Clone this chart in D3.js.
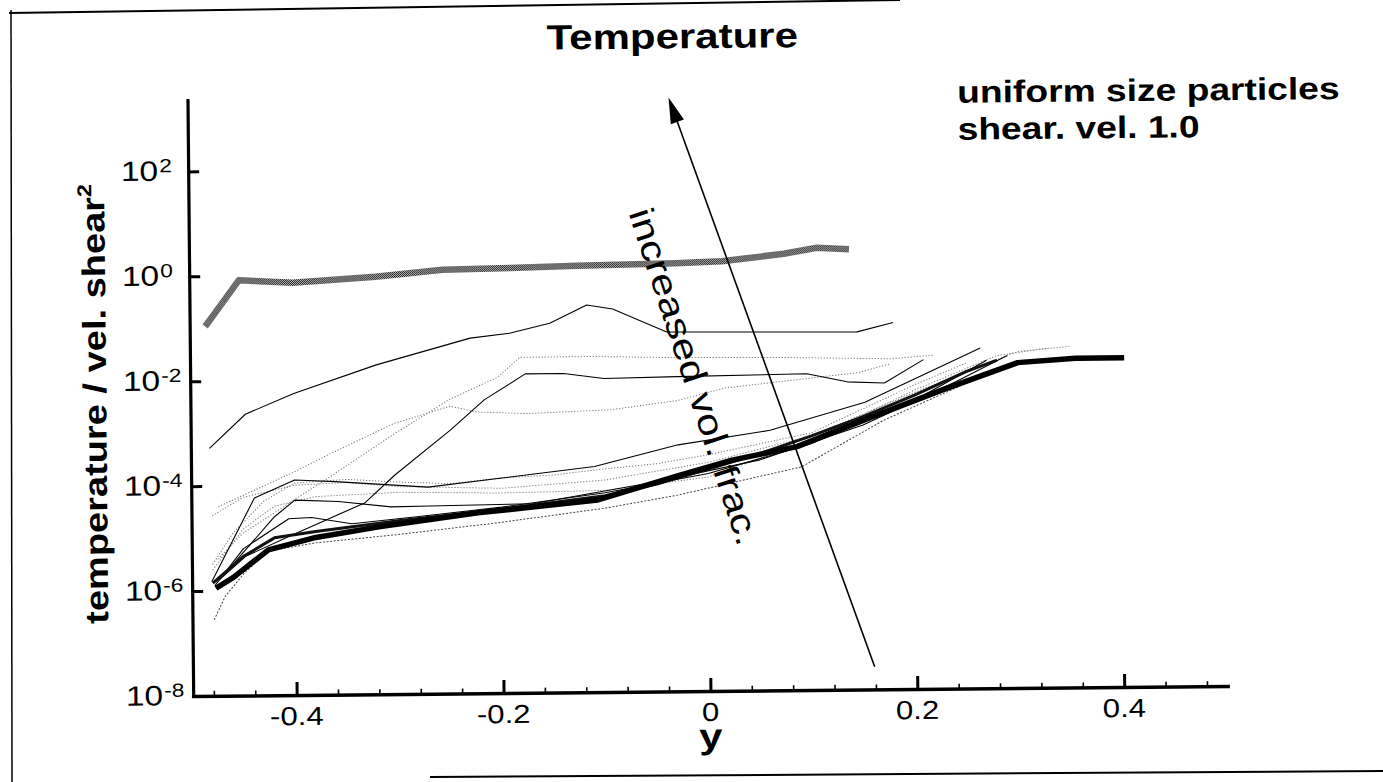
<!DOCTYPE html>
<html>
<head>
<meta charset="utf-8">
<script src="https://cdn.jsdelivr.net/npm/d3@7"></script>
<style>
  body { margin: 0; background: #fff; }
  svg { display: block; }
  text { font-family: "Liberation Sans", Arial, Helvetica, sans-serif; fill: #000; }
</style>
</head>
<body>
<svg id="chart" width="1383" height="782"></svg>
<script>
// ---- axis ticks ----
const yTickValues = [1e-8, 1e-6, 1e-4, 1e-2, 1e0, 1e2];
const yTickExponents = ["-8", "-6", "-4", "-2", "0", "2"];
const xMajorTicks = [-0.4, -0.2, 0, 0.2, 0.4];
const xTickLabels = ["-0.4", "-0.2", "0", "0.2", "0.4"];
const xMinorTicks = [-0.48, -0.44, -0.36, -0.32, -0.28, -0.24, -0.16, -0.12, -0.08, -0.04,
                     0.04, 0.08, 0.12, 0.16, 0.24, 0.28, 0.32, 0.36, 0.44, 0.48];

// ---- profiles: position y across the channel, temperature / vel. shear^2 ----
const posA = [-0.485, -0.452, -0.40, -0.32, -0.255, -0.19, -0.125, -0.03, 0.015, 0.075, 0.107, 0.138];
const tempA = [0.11, 0.83, 0.72, 0.91, 1.2, 1.26, 1.35, 1.45, 1.55, 2.1, 2.7, 2.5];

const posB = [-0.482, -0.447, -0.40, -0.32, -0.229, -0.191, -0.152, -0.116, -0.091, -0.039, 0.145, 0.18];
const tempB = [5.2e-4, 2.3e-3, 5.6e-3, 1.9e-2, 5.9e-2, 7.2e-2, 0.11, 0.24, 0.20, 7.1e-2, 6.6e-2, 9.8e-2];

const posC = [-0.474, -0.448, -0.406, -0.371, -0.332, -0.303, -0.249, -0.216, -0.176, -0.139, -0.10, -0.029, 0.096, 0.135, 0.171, 0.209];
const tempC = [1.6e-6, 4.5e-6, 1.05e-5, 2.1e-5, 4.5e-5, 1.5e-4, 1.05e-3, 3.9e-3, 1.2e-2, 1.2e-2, 9.5e-3, 1.0e-2, 1.07e-2, 7.4e-3, 6.9e-3, 1.9e-2];

const posD = [-0.475, -0.45, -0.37, -0.30, -0.25, -0.203, -0.181, -0.107, -0.03, 0.08, 0.177, 0.219];
const tempD = [4e-6, 1.26e-5, 1.26e-4, 1e-3, 4e-3, 1.05e-2, 2.5e-2, 2.5e-2, 2.3e-2, 2.2e-2, 2.0e-2, 2.3e-2];

const posE = [-0.474, -0.40, -0.368, -0.303, -0.249, -0.223, -0.175, -0.094, -0.029, 0.016, 0.145, 0.177];
const tempE = [4e-5, 1.8e-4, 3.7e-4, 1.45e-3, 3.0e-3, 2.3e-3, 2.1e-3, 2.4e-3, 3.5e-3, 5.9e-3, 1.1e-2, 1.6e-2];

const posF = [-0.477, -0.46, -0.426, -0.38, -0.319, -0.223, -0.107, -0.029, 0.023, 0.086, 0.152, 0.227, 0.30, 0.356, 0.403];
const tempF = [1.12e-6, 1.8e-6, 5.9e-6, 1.0e-5, 1.55e-5, 2.75e-5, 4.6e-5, 1.3e-4, 2.5e-4, 4.4e-4, 1.4e-3, 5.0e-3, 1.6e-2, 1.9e-2, 1.9e-2];

const posG = [-0.48, -0.45, -0.42, -0.38, -0.30, -0.20, -0.10, -0.05, 0.0, 0.05, 0.10, 0.15, 0.20, 0.25, 0.28];
const tempG = [1.4e-6, 4.5e-6, 1.0e-5, 1.3e-5, 2.0e-5, 3.2e-5, 5.5e-5, 9e-5, 1.7e-4, 3.3e-4, 7e-4, 1.6e-3, 4e-3, 1.1e-2, 1.8e-2];

const posH = [-0.481, -0.439, -0.40, -0.361, -0.271, -0.11, -0.029, 0.06, 0.152, 0.264];
const tempH = [1.5e-6, 5.8e-5, 1.26e-4, 1.15e-4, 8.7e-5, 2.0e-4, 5.0e-4, 9.1e-4, 3.0e-3, 3.1e-2];

const posI = [-0.479, -0.468, -0.449, -0.426, -0.38, -0.30, -0.20, -0.10, -0.03, 0.09, 0.17, 0.264];
const tempI = [2.8e-7, 7.9e-7, 2.2e-6, 5.6e-6, 7.9e-6, 1.1e-5, 1.8e-5, 3.2e-5, 5.5e-5, 1.8e-4, 1.35e-3, 8.7e-3];

const posJ = [-0.465, -0.42, -0.40, -0.358, -0.307, -0.27, -0.17, -0.05, 0.05, 0.15, 0.24, 0.29];
const tempJ = [2.5e-6, 2.5e-5, 5.2e-5, 4.8e-5, 3.7e-5, 3.8e-5, 4.0e-5, 1.0e-4, 2.5e-4, 1.1e-3, 7.1e-3, 2.2e-2];

const posK = [-0.478, -0.45, -0.406, -0.384, -0.345, -0.28, -0.20, -0.10, 0.0, 0.10, 0.20, 0.27];
const tempK = [1.26e-6, 6.3e-6, 2.3e-5, 2.4e-5, 1.8e-5, 2.4e-5, 3.5e-5, 6.3e-5, 1.4e-4, 5.0e-4, 3.2e-3, 1.8e-2];

const posL = [-0.48, -0.46, -0.43, -0.40, -0.35, -0.30, -0.25, -0.20, -0.15, -0.10, -0.05, 0.0, 0.10, 0.20, 0.25];
const tempL = [3.2e-6, 1.26e-5, 5e-5, 1.1e-4, 1.26e-4, 1.1e-4, 1.0e-4, 1.26e-4, 1.4e-4, 1.8e-4, 2.2e-4, 3.2e-4, 8e-4, 6.3e-3, 1.6e-2];

const posM = [-0.48, -0.45, -0.42, -0.38, -0.30, -0.20, -0.10, 0.0, 0.10, 0.20, 0.28, 0.33];
const tempM = [2.5e-6, 1.5e-5, 4e-5, 6e-5, 7e-5, 6.5e-5, 7e-5, 1.2e-4, 6e-4, 5e-3, 2.2e-2, 3.0e-2];

const posN = [-0.48, -0.45, -0.40, -0.35, -0.30, -0.20, -0.10, 0.0, 0.10, 0.20, 0.30, 0.35];
const tempN = [2.7e-5, 6e-5, 1.0e-4, 1.1e-4, 9e-5, 8e-5, 1.1e-4, 2.3e-4, 7e-4, 4.5e-3, 2.6e-2, 3.2e-2];

// direction of increasing volume fraction (arrow, in data units)
const arrowFrom = [0.159, 2.7e-8];
const arrowTo = [-0.035, 2100];

// ---- line styles ----
const styles = {
  stipple: { stroke: "url(#stipple)", width: 6.5, dash: null },
  solid:   { stroke: "#000", width: 1.1, dash: null },
  heavy:   { stroke: "#000", width: 5.5, dash: null },
  medium:  { stroke: "#111", width: 3, dash: null },
  dotted:  { stroke: "#777", width: 1, dash: "1.2,1.8" },
  dotDark: { stroke: "#444", width: 1, dash: "2,1.6" }
};

const profiles = [
  { pos: posD, temp: tempD, style: "dotted" },
  { pos: posE, temp: tempE, style: "dotted" },
  { pos: posL, temp: tempL, style: "dotted" },
  { pos: posM, temp: tempM, style: "dotted" },
  { pos: posN, temp: tempN, style: "dotted" },
  { pos: posI, temp: tempI, style: "dotDark" },
  { pos: posB, temp: tempB, style: "solid" },
  { pos: posC, temp: tempC, style: "solid" },
  { pos: posH, temp: tempH, style: "solid" },
  { pos: posJ, temp: tempJ, style: "solid" },
  { pos: posK, temp: tempK, style: "solid" },
  { pos: posG, temp: tempG, style: "medium" },
  { pos: posF, temp: tempF, style: "heavy" },
  { pos: posA, temp: tempA, style: "stipple" }
];

// ---- layout ----
const W = 1383, H = 782;
const origin = { x: 193.2, y: 696 };
const tilt = -0.55;              // the printed page sits slightly rotated
const stretch = 1.2;             // lettering is wider than the stock face

const svg = d3.select("#chart");
svg.append("rect").attr("width", W).attr("height", H).attr("fill", "#fff");

const defs = svg.append("defs");
const pat = defs.append("pattern").attr("id", "stipple")
  .attr("width", 2).attr("height", 2).attr("patternUnits", "userSpaceOnUse");
pat.append("rect").attr("width", 2).attr("height", 2).attr("fill", "#b8b8b8");
pat.append("rect").attr("width", 1).attr("height", 1).attr("fill", "#1a1a1a");
pat.append("rect").attr("x", 1).attr("y", 1).attr("width", 1).attr("height", 1).attr("fill", "#2a2a2a");

// page frame
const frame = svg.append("g").attr("stroke", "#000").attr("fill", "none");
frame.append("line").attr("x1", 11).attr("y1", 10).attr("x2", 12).attr("y2", H).attr("stroke-width", 1.5);
frame.append("line").attr("x1", 9).attr("y1", 13).attr("x2", 900).attr("y2", 0).attr("stroke-width", 2);
frame.append("line").attr("x1", 430).attr("y1", 777).attr("x2", W).attr("y2", 771).attr("stroke-width", 2);

const g = svg.append("g").attr("transform", `rotate(${tilt},${origin.x},${origin.y})`);

const x = d3.scaleLinear().domain([-0.5, 0.5]).range([origin.x, origin.x + 1034.5]);
const y = d3.scaleLog().domain([1e-8, 2300]).range([origin.y, 100]);

function label(parent, px, py, str, opts) {
  const o = Object.assign({ size: 27, weight: "normal", anchor: "start", rotate: 0, sx: stretch }, opts);
  return parent.append("text")
    .attr("transform", `translate(${px},${py}) rotate(${o.rotate}) scale(${o.sx},1)`)
    .attr("font-size", o.size).attr("font-weight", o.weight)
    .attr("text-anchor", o.anchor).text(str);
}

// ---- profiles ----
const line = d3.line().x(d => x(d[0])).y(d => y(d[1]));
profiles.forEach(p => {
  const s = styles[p.style];
  g.append("path")
    .datum(d3.zip(p.pos, p.temp))
    .attr("d", line)
    .attr("fill", "none")
    .attr("stroke", s.stroke)
    .attr("stroke-width", s.width)
    .attr("stroke-dasharray", s.dash)
    .attr("stroke-linejoin", "round");
});

// ---- axes ----
const xAxisG = g.append("g").attr("transform", `translate(0,${origin.y})`);
xAxisG.call(d3.axisBottom(x).tickValues(xMinorTicks).tickSize(-5).tickSizeOuter(0).tickFormat(""));
xAxisG.call(g2 => g2.selectAll(".tick line").attr("stroke-width", 1.6));
const xMajorG = g.append("g").attr("transform", `translate(0,${origin.y})`)
  .call(d3.axisBottom(x).tickValues(xMajorTicks).tickSize(-13).tickSizeOuter(0).tickFormat(""));
xMajorG.selectAll(".tick line").attr("stroke-width", 3);
xMajorG.select(".domain").remove();
xAxisG.select(".domain").attr("stroke-width", 3.5).attr("stroke-linecap", "square");

const yAxisG = g.append("g").attr("transform", `translate(${origin.x},0)`)
  .call(d3.axisLeft(y).tickValues(yTickValues).tickSize(-11).tickSizeOuter(0).tickFormat(""));
yAxisG.select(".domain").attr("stroke-width", 3.2).attr("stroke-linecap", "square");
yAxisG.selectAll(".tick line").attr("stroke-width", 3);

// tick labels
xMajorTicks.forEach((v, i) => {
  label(g, x(v), origin.y + 30, xTickLabels[i], { size: 26, anchor: "middle" });
});
yTickValues.forEach((v, i) => {
  label(g, origin.x - 30, y(v) + 9, "10", { size: 28, anchor: "end" });
  label(g, origin.x - 29, y(v) + 0.5, yTickExponents[i], { size: 19, anchor: "start" });
});

// axis titles
label(g, x(0), 753, "y", { size: 35, weight: "bold", anchor: "middle" });
const yTitle = g.append("text")
  .attr("transform", `translate(109,403) rotate(-90) scale(1.17,1)`)
  .attr("font-size", 32.5).attr("font-weight", "bold").attr("text-anchor", "middle");
yTitle.append("tspan").text("temperature / vel. shear");
yTitle.append("tspan").attr("dy", -13).attr("font-size", 20).text("2");

// titles and notes
label(g, 553, 53, "Temperature", { size: 35, weight: "bold" });
label(g, 963, 110, "uniform size particles", { size: 31, weight: "bold" });
label(g, 963, 147, "shear. vel. 1.0", { size: 31, weight: "bold" });

// arrow
const ax0 = x(arrowFrom[0]), ay0 = y(arrowFrom[1]);
const ax1 = x(arrowTo[0]), ay1 = y(arrowTo[1]);
const len = Math.hypot(ax1 - ax0, ay1 - ay0);
const ux = (ax1 - ax0) / len, uy = (ay1 - ay0) / len;
const headL = 26, headW = 7;
g.append("line")
  .attr("x1", ax0).attr("y1", ay0)
  .attr("x2", ax1 - ux * headL * 0.8).attr("y2", ay1 - uy * headL * 0.8)
  .attr("stroke", "#000").attr("stroke-width", 1.6);
g.append("path")
  .attr("d", d3.line()([
    [ax1, ay1],
    [ax1 - ux * headL - uy * headW, ay1 - uy * headL + ux * headW],
    [ax1 - ux * headL + uy * headW, ay1 - uy * headL - ux * headW]
  ]) + "Z")
  .attr("fill", "#000");

label(g, 633, 217, "increased vol. frac.", { size: 35, rotate: 72.4 });
</script>
</body>
</html>
